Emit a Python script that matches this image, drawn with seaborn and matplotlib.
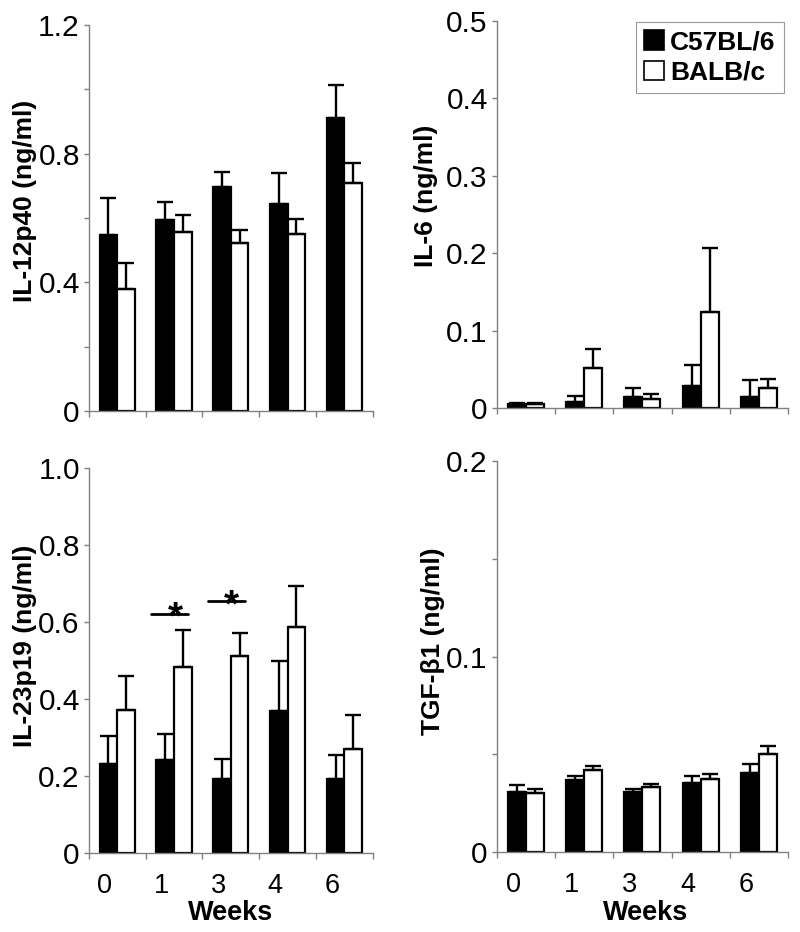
import matplotlib
matplotlib.use("Agg")
import matplotlib.pyplot as plt
from matplotlib.patches import Patch
import seaborn as sns
import numpy as np
import pandas as pd

# weeks after infection and mouse strains
weeks = ["0", "1", "3", "4", "6"]
strains = ["C57BL/6", "BALB/c"]

# IL-12p40 (ng/ml)
il12_b6 = [0.547, 0.595, 0.697, 0.643, 0.910]
il12_b6_err = [0.116, 0.056, 0.046, 0.096, 0.103]
il12_balb = [0.381, 0.556, 0.521, 0.552, 0.710]
il12_balb_err = [0.078, 0.055, 0.041, 0.044, 0.062]

# IL-6 (ng/ml)
il6_b6 = [0.006, 0.008, 0.014, 0.029, 0.014]
il6_b6_err = [0.001, 0.008, 0.012, 0.027, 0.022]
il6_balb = [0.006, 0.052, 0.012, 0.124, 0.026]
il6_balb_err = [0.001, 0.024, 0.006, 0.082, 0.012]

# IL-23p19 (ng/ml)
il23_b6 = [0.231, 0.241, 0.192, 0.368, 0.192]
il23_b6_err = [0.074, 0.068, 0.053, 0.132, 0.063]
il23_balb = [0.371, 0.482, 0.513, 0.587, 0.270]
il23_balb_err = [0.088, 0.098, 0.058, 0.106, 0.089]

# TGF-b1 (ng/ml)
tgf_b6 = [0.0307, 0.0367, 0.0307, 0.0353, 0.0404]
tgf_b6_err = [0.0034, 0.0022, 0.0013, 0.0036, 0.0048]
tgf_balb = [0.0302, 0.0421, 0.0332, 0.0372, 0.0503]
tgf_balb_err = [0.0018, 0.0019, 0.0018, 0.0029, 0.0037]

# significance marks on IL-23p19 panel
sig_weeks = ["1", "3"]
sig_y = [0.622, 0.655]

sns.set_style("ticks")
plt.rcParams['font.family'] = ['Liberation Sans', 'DejaVu Sans']
plt.rcParams.update({'text.color': 'black', 'axes.labelcolor': 'black',
                     'xtick.color': 'black', 'ytick.color': 'black'})

GRAY = '#808080'

panels = [
    dict(label="IL-12p40 (ng/ml)", b6=il12_b6, b6e=il12_b6_err, balb=il12_balb, balbe=il12_balb_err,
         ymax=1.2, major=0.4, minor=0.2, rect=[0.111, 0.559, 0.355, 0.414], lab=(-0.183, 0.544), bottom=False),
    dict(label="IL-6 (ng/ml)", b6=il6_b6, b6e=il6_b6_err, balb=il6_balb, balbe=il6_balb_err,
         ymax=0.5, major=0.1, minor=0.1, rect=[0.621, 0.562, 0.364, 0.416], lab=(-0.203, 0.549), bottom=False),
    dict(label="IL-23p19 (ng/ml)", b6=il23_b6, b6e=il23_b6_err, balb=il23_balb, balbe=il23_balb_err,
         ymax=1.0, major=0.2, minor=0.2, rect=[0.111, 0.0848, 0.355, 0.413], lab=(-0.183, 0.538), bottom=True),
    dict(label="TGF-β1 (ng/ml)", b6=tgf_b6, b6e=tgf_b6_err, balb=tgf_balb, balbe=tgf_balb_err,
         ymax=0.2, major=0.1, minor=0.05, rect=[0.621, 0.0858, 0.364, 0.4195], lab=(-0.179, 0.54), bottom=True),
]

fig = plt.figure(figsize=(8, 9.32), dpi=100)
axes = []

for p in panels:
    ax = fig.add_axes(p["rect"])
    axes.append(ax)
    df = pd.DataFrame({"week": weeks * 2,
                       "strain": [strains[0]] * len(weeks) + [strains[1]] * len(weeks),
                       "value": p["b6"] + p["balb"]})
    sns.barplot(data=df, x="week", y="value", hue="strain", order=weeks, hue_order=strains,
                palette=["black", "white"], saturation=1, edgecolor="black", linewidth=1.6,
                width=0.62, errorbar=None, legend=False, ax=ax)

    # upper-only error bars
    for cont, err in zip(ax.containers, [p["b6e"], p["balbe"]]):
        xs = [b.get_x() + b.get_width() / 2 for b in cont]
        ys = [b.get_height() for b in cont]
        ax.errorbar(xs, ys, yerr=[np.zeros(len(err)), err], fmt='none', ecolor='black',
                    elinewidth=1.7, capsize=6, capthick=1.7, zorder=3)

    ax.set_xlim(-0.5, len(weeks) - 0.5)
    ax.set_ylim(0, p["ymax"])
    sns.despine(ax=ax)
    for s in ["left", "bottom"]:
        ax.spines[s].set_color(GRAY)
        ax.spines[s].set_linewidth(1.0)

    # x: ticks between categories, labels under the black bars
    ax.set_xticks(np.arange(-0.5, len(weeks), 1.0))
    ax.set_xticklabels([])
    ax.set_xticks(np.arange(len(weeks)) - 0.22, minor=True)
    ax.set_xticklabels(weeks if p["bottom"] else [""] * len(weeks), minor=True)
    ax.tick_params(axis='x', which='major', length=4.5, color=GRAY, width=1)
    ax.tick_params(axis='x', which='minor', length=0, pad=14.5, labelsize=19.5, labelcolor='black')
    ax.set_xlabel("")

    yt = np.round(np.arange(0, p["ymax"] + 1e-9, p["major"]), 3)
    ax.set_yticks(yt)
    ax.set_yticklabels(["0" if v == 0 else f"{v:.1f}" for v in yt])
    ax.set_yticks(np.round(np.arange(0, p["ymax"] + 1e-9, p["minor"]), 3), minor=True)
    ax.tick_params(axis='y', which='both', length=3.5, color=GRAY, width=1, labelsize=21.5,
                   pad=3, labelcolor='black')

    ax.set_ylabel(p["label"], fontsize=19, fontweight='bold', color='black')
    ax.yaxis.set_label_coords(*p["lab"])

    if p["bottom"]:
        ax.set_xlabel("Weeks", fontsize=19.5, fontweight='bold', color='black')
        ax.xaxis.set_label_coords(0.5 if p is panels[2] else 0.512, -0.122)

# significance bars on IL-23p19
ax = axes[2]
for w, y in zip(sig_weeks, sig_y):
    i = weeks.index(w)
    ax.plot([i - 0.4, i + 0.25], [y, y], color='black', lw=2)
    ax.annotate("*", (i + 0.02, y), xytext=(0, -11), textcoords='offset points',
                ha='center', va='baseline', fontsize=28, fontweight='bold', color='black')

# legend on IL-6 panel
handles = [Patch(facecolor='black', edgecolor='black', lw=1.2),
           Patch(facecolor='white', edgecolor='black', lw=1.2)]
leg = axes[1].legend(handles, strains, loc='upper right', bbox_to_anchor=(0.985, 0.995),
                     frameon=True, fancybox=False, handlelength=0.75, handleheight=0.75,
                     handletextpad=0.25, labelspacing=0.25, borderpad=0.3, borderaxespad=0,
                     prop={'size': 19, 'weight': 'bold'})
leg.get_frame().set_edgecolor(GRAY)
leg.get_frame().set_linewidth(0.8)
for t in leg.get_texts():
    t.set_color('black')

fig.savefig("out.png", dpi=100)
